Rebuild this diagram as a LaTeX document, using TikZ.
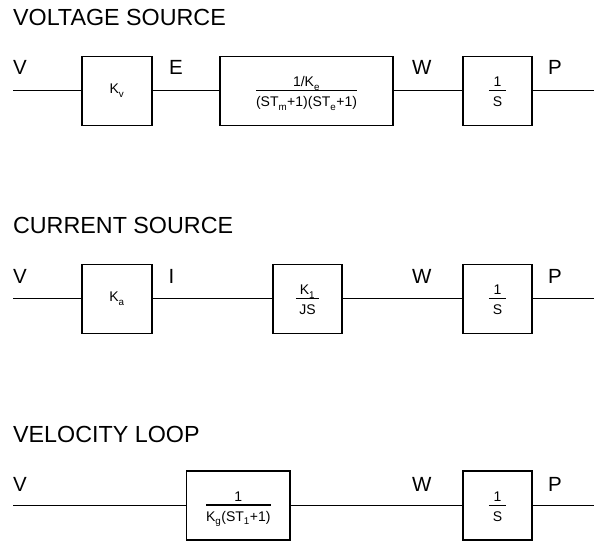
\documentclass[tikz,border=0pt]{standalone}
\usepackage{fontspec}
\setmainfont{Liberation Sans}
\usepackage{tikz}
\usetikzlibrary{positioning}
\setlength{\arrayrulewidth}{1.2pt}
% fraction inside a block: numerator, bar, denominator
\newcommand{\blkfrac}[3][0pt]{%
  \begin{tabular}{@{\hspace{#1}}c@{\hspace{#1}}}
    \rule{0pt}{17pt}#2\\[-1.6pt]\hline
    \rule{0pt}{15.7pt}#3
  \end{tabular}}
% lowered subscript
\newcommand{\sbs}[1]{\raisebox{-1.2pt}{\textsubscript{#1}}}

\begin{document}
\begin{tikzpicture}[x=1pt, y=-1pt, line width=1.2pt,
    blk/.style={draw, inner sep=0pt, minimum height=69pt,
      font=\fontsize{14}{16}\selectfont},
    sig/.style={inner sep=0pt, anchor=base west, font=\fontsize{20.5}{24}\selectfont},
    ttl/.style={inner sep=0pt, anchor=base west, font=\fontsize{23.3}{27}\selectfont}]
    \useasboundingbox (0,0) rectangle (594,542);

    % Voltage source
    \node[ttl] (ttlvolt) at (12.5,25) {VOLTAGE SOURCE};
    \coordinate (vinA) at (13,90.7);
    \coordinate (poutA) at (594,90.7);
    \node[blk, minimum width=70pt] (kv) at (117,90.7) {K\sbs{v}};
    \node[blk, minimum width=173pt] (motA) at (306.5,90.7)
      {\blkfrac{1/K\sbs{e}}{(ST\sbs{m}+1)(ST\sbs{e}+1)}};
    \node[blk, minimum width=69pt] (intA) at (497.5,90.7) {\blkfrac[4pt]{1}{S}};
    \draw (vinA) -- (kv) -- (motA) -- (intA) -- (poutA);
    \node[sig] (lvA) at (12.5,74) {V};
    \node[sig] (leA) at (168.5,74) {E};
    \node[sig] (lwA) at (411.5,74) {W};
    \node[sig] (lpA) at (547.5,74) {P};

    % Current source
    \node[ttl] (ttlcurr) at (12.5,233.3) {CURRENT SOURCE};
    \coordinate (vinB) at (13,298.7);
    \coordinate (poutB) at (594,298.7);
    \node[blk, minimum width=70pt] (ka) at (117,298.7) {K\sbs{a}};
    \node[blk, minimum width=69pt] (motB) at (307.5,298.7)
      {\blkfrac[3.5pt]{K\sbs{1}}{JS}};
    \node[blk, minimum width=69pt] (intB) at (497.5,298.7) {\blkfrac[4pt]{1}{S}};
    \draw (vinB) -- (ka) -- (motB) -- (intB) -- (poutB);
    \node[sig] (lvB) at (12.5,283) {V};
    \node[sig] (liB) at (168,283) {I};
    \node[sig] (lwB) at (411.5,283) {W};
    \node[sig] (lpB) at (547.5,283) {P};

    % Velocity loop
    \node[ttl] (ttlvel) at (12.5,442.5) {VELOCITY LOOP};
    \coordinate (vinC) at (13,505.5);
    \coordinate (poutC) at (594,505.5);
    \node[blk, minimum width=103.3pt] (velC) at (238.3,505.5)
      {\blkfrac{1}{K\sbs{g}(ST\sbs{1}+1)}};
    \node[blk, minimum width=69pt] (intC) at (497.5,505.5) {\blkfrac[4pt]{1}{S}};
    \draw (vinC) -- (velC) -- (intC) -- (poutC);
    \node[sig] (lvC) at (12.5,491.5) {V};
    \node[sig] (lwC) at (411.5,491.5) {W};
    \node[sig] (lpC) at (547.5,491.5) {P};
  \end{tikzpicture}
\end{document}
